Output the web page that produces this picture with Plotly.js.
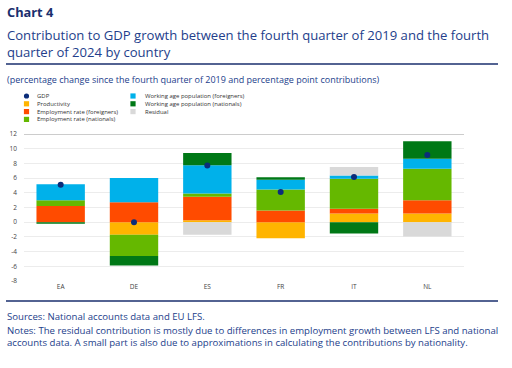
<!DOCTYPE html>
<html>
<head>
<meta charset="utf-8">
<script src="https://cdn.plot.ly/plotly-3.0.1.min.js"></script>
<style>html,body{margin:0;padding:0;background:#fff;}#chart{width:512px;height:368px;}</style>
</head>
<body>
<div id="chart"></div>
<script>
const countries = ["EA", "DE", "ES", "FR", "IT", "NL"];
const gdp = [5.1, 0.0, 7.7, 4.1, 6.15, 9.15];
const productivity = [0.0, -1.7, 0.25, -2.2, 1.18, 1.18];
const empForeigners = [2.2, 2.7, 3.2, 1.6, 0.64, 1.82];
const empNationals = [0.8, -2.9, 0.45, 2.85, 4.08, 4.27];
const wapForeigners = [2.15, 3.3, 3.85, 1.32, 0.46, 1.37];
const wapNationals = [-0.2, -1.3, 1.65, 0.33, -1.55, 2.36];
const residual = [0.0, 0.0, -1.7, 0.0, 1.14, -1.95];
const seriesNames = ["GDP", "Productivity", "Employment rate (foreigners)", "Employment rate (nationals)",
  "Working age population (foreigners)", "Working age population (nationals)", "Residual"];
const yTicks = [-8, -6, -4, -2, 0, 2, 4, 6, 8, 10, 12];

const colors = {
  gdp: "#0b2d7a", prod: "#ffb400", empF: "#ff4b00", empN: "#65b800",
  wapF: "#00b1ea", wapN: "#007816", res: "#d9d9d9"
};
const barColors = [colors.prod, colors.empF, colors.empN, colors.wapF, colors.wapN, colors.res];
const barSeries = [productivity, empForeigners, empNationals, wapForeigners, wapNationals, residual];

const W = 512, H = 368;
const L = 24, R = 48, T = 134, B = 87;
const pw = W - L - R, ph = H - T - B;
const px = x => (x - L) / pw;
const py = y => (H - B - y) / ph;

const traces = barSeries.map((vals, i) => ({
  type: "bar", x: countries, y: vals, name: seriesNames[i + 1],
  marker: { color: barColors[i], line: { width: 0 } },
  width: 0.66, showlegend: false, hoverinfo: "skip"
}));
traces.push({
  type: "scatter", mode: "markers", x: countries, y: gdp, name: seriesNames[0],
  marker: { color: colors.gdp, size: 6 }, showlegend: false, cliponaxis: false
});

const navy = "#1a2f6e";
const blue = "#233e8b";
const annotations = [];
const shapes = [];
function txt(x, y, text, size, color, opts) {
  annotations.push(Object.assign({
    xref: "paper", yref: "paper", x: px(x), y: py(y), text: text, showarrow: false,
    xanchor: "left", yanchor: "middle", align: "left", borderpad: 0,
    font: { family: "Open Sans, sans-serif", size: size, color: color }
  }, opts || {}));
}
txt(6, 12, "<b>Chart 4</b>", 12.8, navy);
txt(6, 25, "Contribution to GDP growth between the fourth quarter of 2019 and the fourth<br>quarter of 2024 by country", 13.1, blue, { yanchor: "top" });
shapes.push({ type: "line", xref: "paper", yref: "paper", x0: px(6), x1: px(498), y0: py(64), y1: py(64), line: { color: navy, width: 1.3 } });
txt(6, 79, "(percentage change since the fourth quarter of 2019 and percentage point contributions)", 9.0, blue);

// legend (drawn manually to match compact layout)
const legendItems = [
  { col: 0, row: 0, c: colors.gdp, circle: true },
  { col: 0, row: 1, c: colors.prod },
  { col: 0, row: 2, c: colors.empF },
  { col: 0, row: 3, c: colors.empN },
  { col: 1, row: 0, c: colors.wapF },
  { col: 1, row: 1, c: colors.wapN },
  { col: 1, row: 2, c: colors.res }
];
const rowY = [96, 103.8, 111.6, 119.4];
const colMX = [26.5, 133];
const colTX = [35.5, 143.5];
legendItems.forEach((it, i) => {
  const cx = colMX[it.col], cy = rowY[it.row];
  const s = 2.6;
  shapes.push({
    type: it.circle ? "circle" : "rect", xref: "paper", yref: "paper",
    x0: px(cx - s), x1: px(cx + s), y0: py(cy + s), y1: py(cy - s),
    fillcolor: it.c, line: { width: 0 }
  });
  txt(colTX[it.col], cy, seriesNames[i], 5.95, "#333333");
});

shapes.push({ type: "line", xref: "paper", yref: "paper", x0: px(6), x1: px(498), y0: py(301), y1: py(301), line: { color: navy, width: 1.3 } });
txt(6, 316, "Sources: National accounts data and EU LFS.", 9.6, blue);
txt(6, 323.3, "Notes: The residual contribution is mostly due to differences in employment growth between LFS and national<br>accounts data. A small part is also due to approximations in calculating the contributions by nationality.", 9.6, blue, { yanchor: "top" });

const layout = {
  width: W, height: H,
  margin: { l: L, r: R, t: T, b: B, pad: 0 },
  paper_bgcolor: "#ffffff", plot_bgcolor: "#ffffff",
  barmode: "relative", bargap: 0.34,
  showlegend: false,
  font: { family: "Open Sans, sans-serif", color: "#444" },
  xaxis: {
    type: "category", showgrid: false, zeroline: false, showline: false, ticks: "",
    tickfont: { size: 6.5, color: "#444" }, ticklabelstandoff: 0, fixedrange: true
  },
  yaxis: {
    range: [-8, 12], tickvals: yTicks, ticktext: yTicks.map(String),
    showgrid: true, gridcolor: "#ececec", gridwidth: 1, zeroline: false, showline: false,
    ticks: "", tickfont: { size: 6.5, color: "#444" }, ticklabelstandoff: 6, fixedrange: true
  },
  annotations: annotations,
  shapes: shapes.concat([{
    type: "line", xref: "paper", yref: "y", x0: 0, x1: 1, y0: 12, y1: 12,
    line: { color: "#9a9a9a", width: 1 }
  }])
};

Plotly.newPlot("chart", traces, layout, { staticPlot: true, displayModeBar: false });
</script>
</body>
</html>
